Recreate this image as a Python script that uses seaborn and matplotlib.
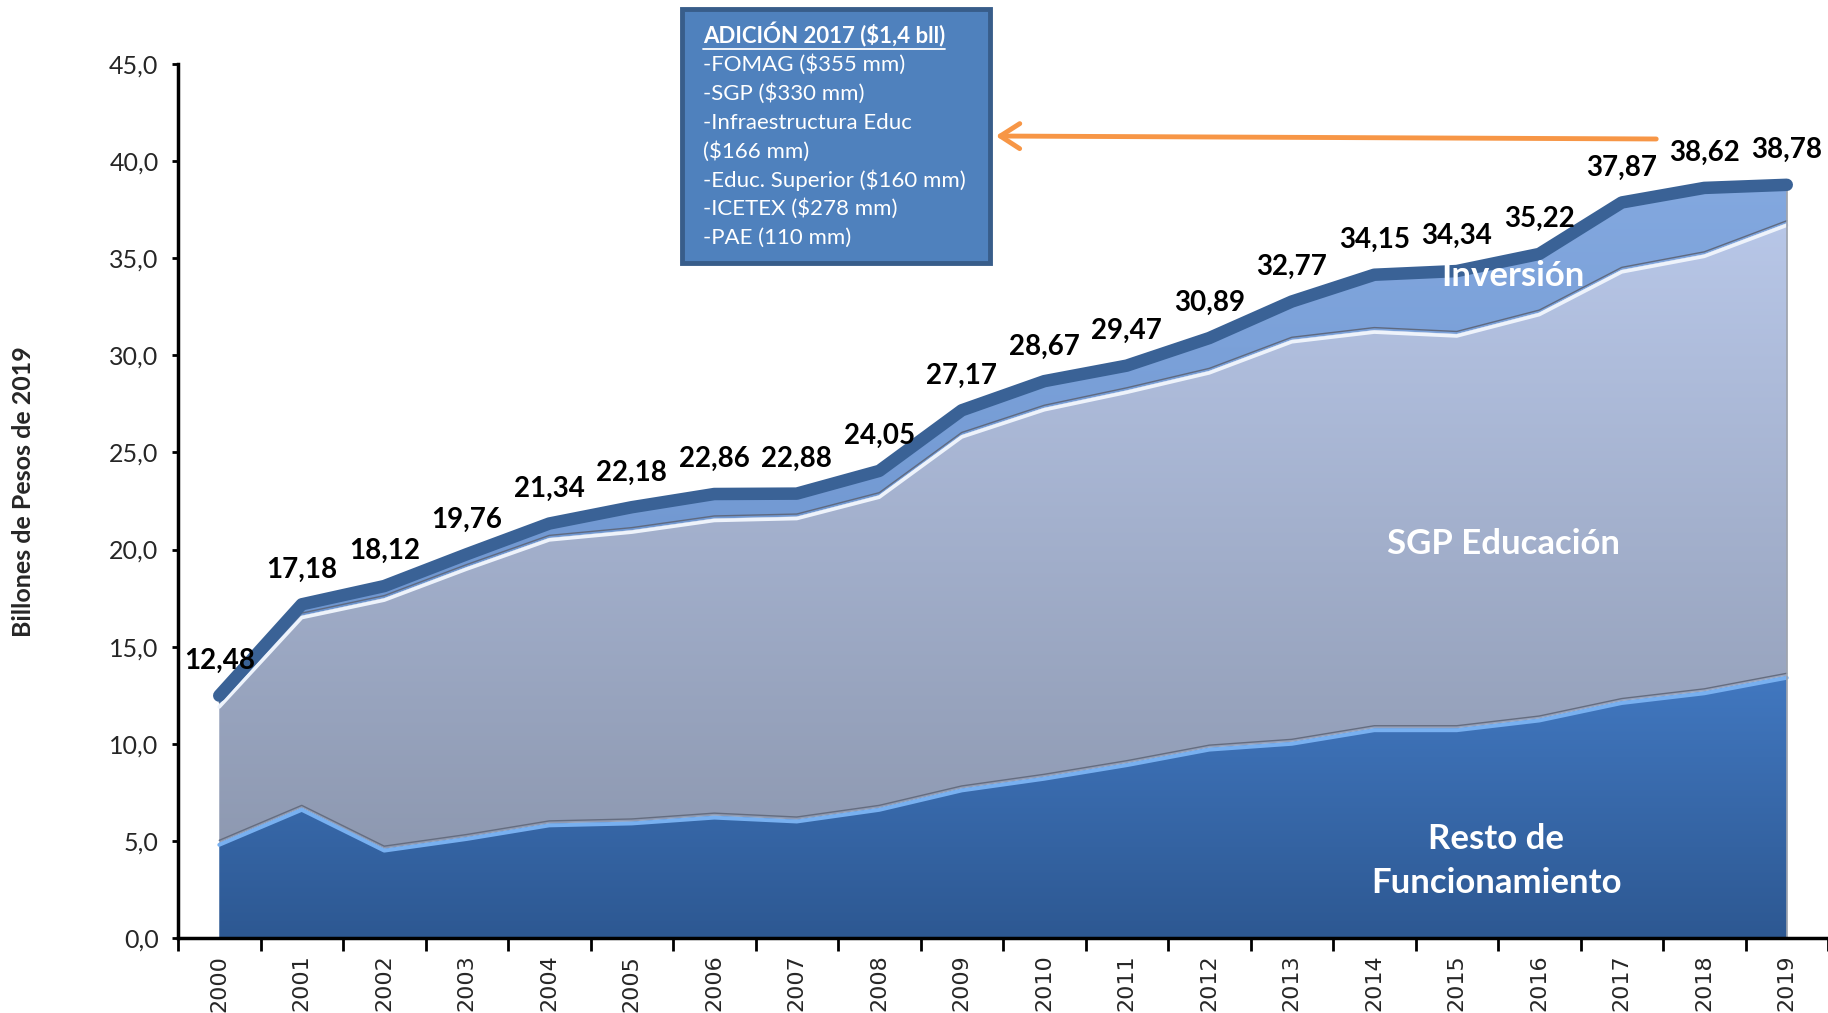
import numpy as np
import pandas as pd
import matplotlib
matplotlib.use("Agg")
import matplotlib.pyplot as plt
import seaborn as sns
from matplotlib.colors import LinearSegmentedColormap
from matplotlib.patches import Rectangle
from matplotlib.lines import Line2D
from matplotlib import transforms

# ---------------- data ----------------
years = [2000, 2001, 2002, 2003, 2004, 2005, 2006, 2007, 2008, 2009,
         2010, 2011, 2012, 2013, 2014, 2015, 2016, 2017, 2018, 2019]
total = [12.48, 17.18, 18.12, 19.76, 21.34, 22.18, 22.86, 22.88, 24.05, 27.17,
         28.67, 29.47, 30.89, 32.77, 34.15, 34.34, 35.22, 37.87, 38.62, 38.78]
resto = [4.9, 6.7, 4.6, 5.2, 5.9, 6.0, 6.3, 6.1, 6.7, 7.7,
         8.3, 9.0, 9.8, 10.1, 10.8, 10.8, 11.3, 12.2, 12.7, 13.5]
sgp = [7.1, 9.9, 12.9, 13.9, 14.7, 15.0, 15.3, 15.6, 16.1, 18.2,
       19.0, 19.2, 19.4, 20.7, 20.5, 20.3, 20.9, 22.2, 22.5, 23.3]
inversion = [0.48, 0.58, 0.62, 0.66, 0.74, 1.18, 1.26, 1.18, 1.25, 1.27,
             1.37, 1.27, 1.69, 1.97, 2.85, 3.24, 3.02, 3.47, 3.42, 1.98]
y_ticks = [0, 5, 10, 15, 20, 25, 30, 35, 40, 45]
series_names = ["Resto de\nFuncionamiento", "SGP Educación", "Inversión"]
box_title = "ADICIÓN 2017 ($1,4 bll)"
box_lines = ["-FOMAG ($355 mm)", "-SGP ($330 mm)", "-Infraestructura Educ",
             "($166 mm)", "-Educ. Superior ($160 mm)", "-ICETEX ($278 mm)",
             "-PAE (110 mm)"]
y_label = "Billones de Pesos de 2019"

# ---------------- style ----------------
sns.set_theme(style="white")
FONT = ["Lato", "DejaVu Sans"]
plt.rcParams["font.family"] = FONT

W, H = 1828, 1013
fig = plt.figure(figsize=(W / 100, H / 100), dpi=100)
ax = fig.add_axes([178 / W, (H - 938) / H, (W - 178) / W, (938 - 64) / H])

x = np.arange(len(years))
df = pd.DataFrame({"x": x, "year": years, "total": total, "resto": resto,
                   "sgp": sgp, "inv": inversion})
r = np.array(resto)
m = r + np.array(sgp)
t = m + np.array(inversion)


def grad_fill(y0, y1, c_top, c_bot, lo, hi, z):
    poly = ax.fill_between(x, y0, y1, color="none", lw=0, zorder=z)
    cmap = LinearSegmentedColormap.from_list("g", [c_bot, c_top])
    grad = np.linspace(0, 1, 256).reshape(-1, 1)
    im = ax.imshow(grad, cmap=cmap, origin="lower", aspect="auto",
                   extent=[-0.5, 19.5, lo, hi], zorder=z, interpolation="bilinear")
    im.set_clip_path(poly.get_paths()[0], transform=ax.transData)


grad_fill(0, r, "#4279c2", "#2d5892", 0, 14, 1)
grad_fill(r, m, "#b8c7e8", "#8d98b0", 4, 37, 1)
grad_fill(m, t, "#83a8df", "#6a92cc", 12, 39, 1)

up2 = transforms.offset_copy(ax.transData, fig=fig, y=2.5, units="dots")
dn2 = transforms.offset_copy(ax.transData, fig=fig, y=-2, units="dots")
# bevel highlights
ax.plot(x, r, color="#656d80", lw=1.0, transform=up2, zorder=2)
ax.plot(x, r, color="#78b0f0", lw=2.8, transform=dn2, zorder=2)
ax.plot(x, m, color="#5f6a80", lw=1.0, transform=up2, zorder=2)
ax.plot(x, m, color="#eef3fb", lw=2.6, transform=dn2, zorder=2)
ax.plot([19, 19], [0, total[-1]], color="#9aa0aa", lw=1.2, zorder=2)

# top total line
sns.lineplot(data=df, x="x", y="total", ax=ax, color="#3a6296", lw=9,
             solid_capstyle="round", solid_joinstyle="round", zorder=3)

# value labels
for xi, v in zip(x, total):
    ax.annotate(f"{v:.2f}".replace(".", ","), (xi, v), xytext=(0, 25),
                textcoords="offset points", ha="center", va="center",
                fontsize=20, fontweight="bold", color="black", zorder=5)

# series labels
ax.text(15.68, 34.1, series_names[2], color="white", fontsize=25,
        fontweight="bold", ha="center", va="center", zorder=4)
ax.text(15.57, 20.3, series_names[1], color="white", fontsize=25,
        fontweight="bold", ha="center", va="center", zorder=4)
ax.text(15.48, 3.95, series_names[0], color="white", fontsize=25,
        fontweight="bold", ha="center", va="center", linespacing=1.45, zorder=4)

# axes
ax.set_xlim(-0.5, 19.5)
ax.set_ylim(0, 45)
ax.set_xlabel("")
ax.set_ylabel("")
for s in ["top", "right"]:
    ax.spines[s].set_visible(False)
for s in ["left", "bottom"]:
    ax.spines[s].set_color("black")
    ax.spines[s].set_linewidth(2.5)
    ax.spines[s].set_zorder(6)

ax.set_yticks(y_ticks)
ax.set_yticklabels([f"{v:.1f}".replace(".", ",") for v in y_ticks], fontsize=18)
ax.tick_params(axis="y", direction="out", length=4, width=2, color="black",
               pad=10, left=True)
ax.set_xticks(np.arange(-0.5, 20, 1))
ax.set_xticklabels([])
ax.tick_params(axis="x", which="major", direction="out", length=9, width=2,
               color="black", bottom=True)
ax.set_xticks(x, minor=True)
ax.set_xticklabels([str(yv) for yv in years], minor=True, rotation=90,
                   fontsize=16, family=["DejaVu Sans"])
ax.tick_params(axis="x", which="minor", length=0, pad=12)

fig.text(24 / W, 1 - 492 / H, y_label, rotation=90, ha="center", va="center",
         fontsize=18, fontweight="bold")

# annotation box
fig.patches.append(Rectangle((682 / W, 1 - 263 / H), (990 - 682) / W, (263 - 9) / H,
                             transform=fig.transFigure, facecolor="#4f81bd",
                             edgecolor="#385d8a", lw=3.5, zorder=10))
title = fig.text(703 / W, 1 - 35 / H, box_title, color="white", fontsize=16,
                 fontweight="bold", ha="left", va="center", zorder=11)
ys = [65, 94, 123, 152, 180, 209, 238]
for yy, line in zip(ys, box_lines):
    fig.text(703 / W, 1 - yy / H, line, color="white", fontsize=16,
             ha="left", va="center", zorder=11)

fig.canvas.draw()
bb = title.get_window_extent()
fig.add_artist(Line2D([bb.x0 / W, bb.x1 / W], [(bb.y0 - 1) / H, (bb.y0 - 1) / H],
                      transform=fig.transFigure, color="white", lw=1.3, zorder=11))

# arrow
ax.annotate("", xy=(993 / W, 1 - 136 / H), xycoords="figure fraction",
            xytext=(1659 / W, 1 - 139 / H), textcoords="figure fraction",
            arrowprops=dict(arrowstyle="->,head_length=0.7,head_width=0.45",
                            color="#f79646", lw=3.5, mutation_scale=20),
            zorder=12, annotation_clip=False)

fig.savefig("out.png", dpi=100)
